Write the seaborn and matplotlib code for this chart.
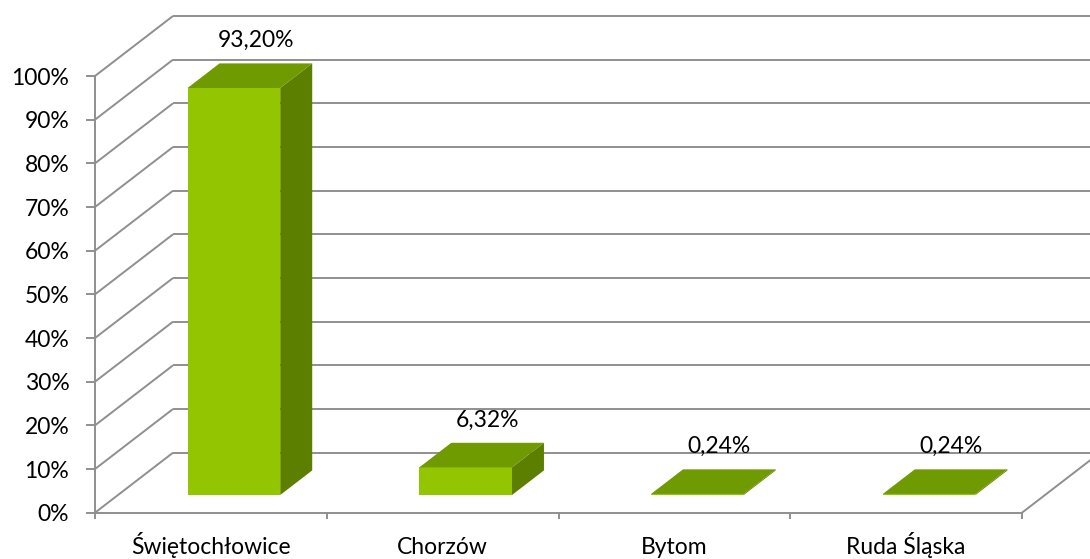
import matplotlib
matplotlib.use("Agg")
import matplotlib.pyplot as plt
from matplotlib.patches import Polygon
from matplotlib.lines import Line2D
from matplotlib.transforms import ScaledTranslation, IdentityTransform
import seaborn as sns
import pandas as pd

# ---- data ----
categories = ["Świętochłowice", "Chorzów", "Bytom", "Ruda Śląska"]
shares = [93.20, 6.32, 0.24, 0.24]
value_labels = ["93,20%", "6,32%", "0,24%", "0,24%"]
y_ticks = [0, 10, 20, 30, 40, 50, 60, 70, 80, 90, 100]
y_tick_labels = [f"{t}%" for t in y_ticks]

# ---- style ----
FRONT = "#93C600"
TOP = "#6F9A00"
SIDE = "#5C7F00"
GRID = "#8F8F8F"
FONT_SIZE = 16.5

sns.set_theme(style="white")
plt.rcParams["font.family"] = ["Lato", "DejaVu Sans"]

DPI = 100
W, H = 1090, 559
fig = plt.figure(figsize=(W / DPI, H / DPI), dpi=DPI, facecolor="white")
# front plane of the 3-D box (pixel geometry of the plotting area)
ax = fig.add_axes([95 / W, (H - 512.7) / H, 927 / W, 436.7 / H])
ax.set_facecolor("none")

DEPTH = (78.0, 60.0)        # oblique depth vector of the box, in pixels
BAR_FRONT, BAR_BACK = 0.295, 0.705   # bar slab inside the depth

df = pd.DataFrame({"city": categories, "share": shares})
sns.barplot(data=df, x="city", y="share", order=categories, width=0.4,
            color=FRONT, saturation=1, linewidth=0, zorder=4, ax=ax)
ax.set_xlim(-0.5, len(categories) - 0.5)
ax.set_ylim(0, 100)


def depth_shift(d):
    return ScaledTranslation(d * DEPTH[0] / DPI, d * DEPTH[1] / DPI,
                             fig.dpi_scale_trans)


def to_px(x, y, d):
    px, py = ax.transData.transform((x, y))
    return px + d * DEPTH[0], py + d * DEPTH[1]


def px_line(p0, p1, **kw):
    ln = Line2D([p0[0], p1[0]], [p0[1], p1[1]], transform=IdentityTransform(),
                clip_on=False, **kw)
    ax.add_line(ln)


x_lo, x_hi = ax.get_xlim()
grid_kw = dict(color=GRID, lw=1.4, solid_capstyle="butt", zorder=1)

# back wall gridlines
for t in y_ticks:
    ax.plot([x_lo, x_hi], [t, t], transform=ax.transData + depth_shift(1.0),
            clip_on=False, **grid_kw)
# side wall gridlines (diagonals)
for t in y_ticks:
    px_line(to_px(x_lo, t, 0), to_px(x_lo, t, 1), **grid_kw)
# right edge of the floor
px_line(to_px(x_hi, 0, 0), to_px(x_hi, 0, 1), **grid_kw)

# bars: shift front faces into the box and add top and side faces
for patch, label in zip(ax.patches, value_labels):
    patch.set_transform(ax.transData + depth_shift(BAR_FRONT))
    patch.set_clip_on(False)
    x0, w, h = patch.get_x(), patch.get_width(), patch.get_height()
    top = [to_px(x0, h, BAR_FRONT), to_px(x0 + w, h, BAR_FRONT),
           to_px(x0 + w, h, BAR_BACK), to_px(x0, h, BAR_BACK)]
    side = [to_px(x0 + w, 0, BAR_FRONT), to_px(x0 + w, h, BAR_FRONT),
            to_px(x0 + w, h, BAR_BACK), to_px(x0 + w, 0, BAR_BACK)]
    ax.add_patch(Polygon(side, closed=True, facecolor=SIDE, edgecolor="none",
                         transform=IdentityTransform(), clip_on=False, zorder=3))
    ax.add_patch(Polygon(top, closed=True, facecolor=TOP, edgecolor="none",
                         transform=IdentityTransform(), clip_on=False, zorder=5))
    lx, ly = to_px(x0 + w / 2, h, 0.5)
    ax.text(lx + 6, ly + 35, label, transform=IdentityTransform(),
            ha="center", va="center", fontsize=FONT_SIZE, color="black",
            zorder=6)

# axes, ticks and labels
sns.despine(ax=ax)
for side_name in ("left", "bottom"):
    ax.spines[side_name].set_color(GRID)
    ax.spines[side_name].set_linewidth(1.4)
    ax.spines[side_name].set_zorder(1)

ax.set_yticks(y_ticks)
ax.set_yticklabels(y_tick_labels)
ax.set_xticks(range(len(categories)))
ax.set_xticklabels(categories)
ax.set_xticks([i - 0.5 for i in range(len(categories) + 1)], minor=True)
ax.tick_params(axis="y", which="major", left=True, length=6.5, width=1.4,
               color=GRID, pad=12, labelsize=FONT_SIZE, labelcolor="black")
ax.tick_params(axis="x", which="major", bottom=True, length=0, pad=29.5,
               labelsize=FONT_SIZE, labelcolor="black")
ax.tick_params(axis="x", which="minor", bottom=True, length=4.3, width=1.4,
               color=GRID, direction="out")
# category names share a common baseline
for tl in ax.get_xticklabels():
    tl.set_verticalalignment("baseline")
ax.set_xlabel("")
ax.set_ylabel("")
ax.grid(False)

fig.savefig("out.png", dpi=DPI, facecolor="white")
